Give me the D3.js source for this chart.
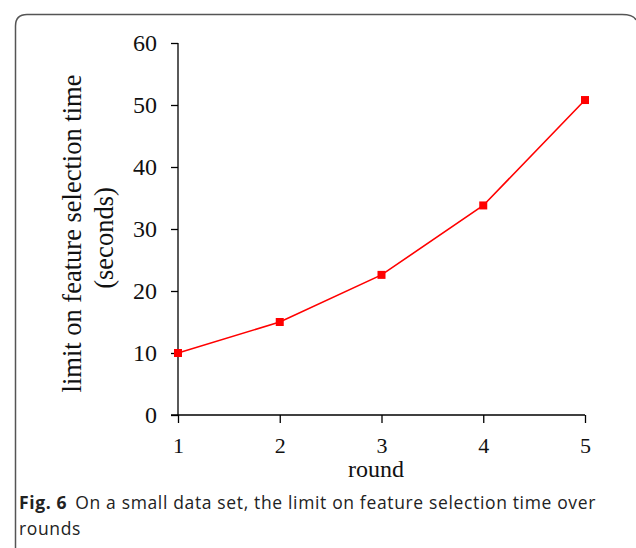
<!DOCTYPE html>
<html>
<head>
<meta charset="utf-8">
<script src="https://cdn.jsdelivr.net/npm/d3@7"></script>
<style>
  body { margin: 0; background: #fff; }
  svg { display: block; }
  .tick text { font-family: "Liberation Serif", "Times New Roman", serif; fill: #111; }
</style>
</head>
<body>
<svg id="chart" width="636" height="548"></svg>
<script>
let rounds = [1, 2, 3, 4, 5],
	limit_time = [10, 15, 22.6, 33.8, 50.8],
	y_ticks = [0, 10, 20, 30, 40, 50, 60];

let y_title = ['limit on feature selection time', '(seconds)'],
	x_title = 'round',
	caption_bold = 'Fig. 6',
	caption_lines = ['On a small data set, the limit on feature selection time over', 'rounds'];

let plot = {left: 178, right: 585, top: 43, bottom: 415};

let svg = d3.select('#chart');

// frame of the figure
svg.append('path')
	.attr('d', `M15.5,560 L15.5,26 Q15.5,14.5 27,14.5 L622,14.5 Q633.5,14.5 636,20`)
	.attr('fill', 'none')
	.attr('stroke', '#555')
	.attr('stroke-width', 1.5);

let x = d3.scaleLinear().domain([1, 5]).range([plot.left, plot.right]);
let y = d3.scaleLinear().domain([0, 60]).range([plot.bottom, plot.top]);

// y axis
let yAxis = svg.append('g')
	.attr('transform', `translate(${plot.left},0)`)
	.call(d3.axisLeft(y).tickValues(y_ticks).tickSize(7).tickPadding(14));
yAxis.select('.domain').remove();
yAxis.selectAll('.tick text').style('font-size', '24px');

// x axis
let xAxis = svg.append('g')
	.attr('transform', `translate(0,${plot.bottom})`)
	.call(d3.axisBottom(x).tickValues(rounds).tickFormat(d3.format('d')).tickSize(8).tickPadding(14));
xAxis.select('.domain').remove();
xAxis.selectAll('.tick text').style('font-size', '22px');

// axis lines
svg.append('line')
	.attr('x1', plot.left).attr('x2', plot.left)
	.attr('y1', plot.top).attr('y2', plot.bottom)
	.attr('stroke', '#000').attr('stroke-width', 1.3);
svg.append('line')
	.attr('x1', plot.left - 7).attr('x2', plot.right)
	.attr('y1', plot.bottom).attr('y2', plot.bottom)
	.attr('stroke', '#000').attr('stroke-width', 1.3);
svg.selectAll('.tick line').attr('stroke-width', 1.3);

// axis titles
svg.append('text')
	.attr('transform', 'translate(81,233.5) rotate(-90)')
	.attr('text-anchor', 'middle')
	.style('font-family', '"Liberation Serif", serif')
	.style('font-size', '26.5px')
	.attr('fill', '#111')
	.text(y_title[0]);
svg.append('text')
	.attr('transform', 'translate(113,238) rotate(-90)')
	.attr('text-anchor', 'middle')
	.style('font-family', '"Liberation Serif", serif')
	.style('font-size', '26.5px')
	.attr('fill', '#111')
	.text(y_title[1]);
svg.append('text')
	.attr('x', 376)
	.attr('y', 477)
	.attr('text-anchor', 'middle')
	.style('font-family', '"Liberation Serif", serif')
	.style('font-size', '24px')
	.attr('fill', '#111')
	.text(x_title);

// line + markers
let line_function = d3.line()
	.x((d, i) => x(rounds[i]))
	.y(d => y(d));

svg.append('path')
	.attr('d', line_function(limit_time))
	.attr('fill', 'none')
	.attr('stroke', '#ff0000')
	.attr('stroke-width', 1.6);

svg.selectAll('.marker')
	.data(limit_time)
	.enter()
	.append('rect')
	.attr('class', 'marker')
	.attr('x', (d, i) => x(rounds[i]) - 4)
	.attr('y', d => y(d) - 4)
	.attr('width', 8)
	.attr('height', 8)
	.attr('fill', '#ff0000');

// caption
let cap = svg.append('text')
	.attr('x', 19)
	.attr('y', 509)
	.style('font-family', '"Open Sans", sans-serif')
	.style('font-size', '17.5px')
	.attr('fill', '#222');
cap.append('tspan')
	.style('font-weight', 'bold')
	.text(caption_bold);
cap.append('tspan')
	.attr('dx', 8)
	.text(caption_lines[0]);
// stretch first caption line to the width in the figure
let cap_w = cap.node().getComputedTextLength(),
	cap_chars = caption_bold.length + caption_lines[0].length;
cap.style('letter-spacing', `${(588 - 19 - cap_w) / cap_chars}px`);

svg.append('text')
	.attr('x', 19)
	.attr('y', 535)
	.style('font-family', '"Open Sans", sans-serif')
	.style('font-size', '17.5px')
	.style('letter-spacing', `${(588 - 19 - cap_w) / cap_chars}px`)
	.attr('fill', '#222')
	.text(caption_lines[1]);
</script>
</body>
</html>
